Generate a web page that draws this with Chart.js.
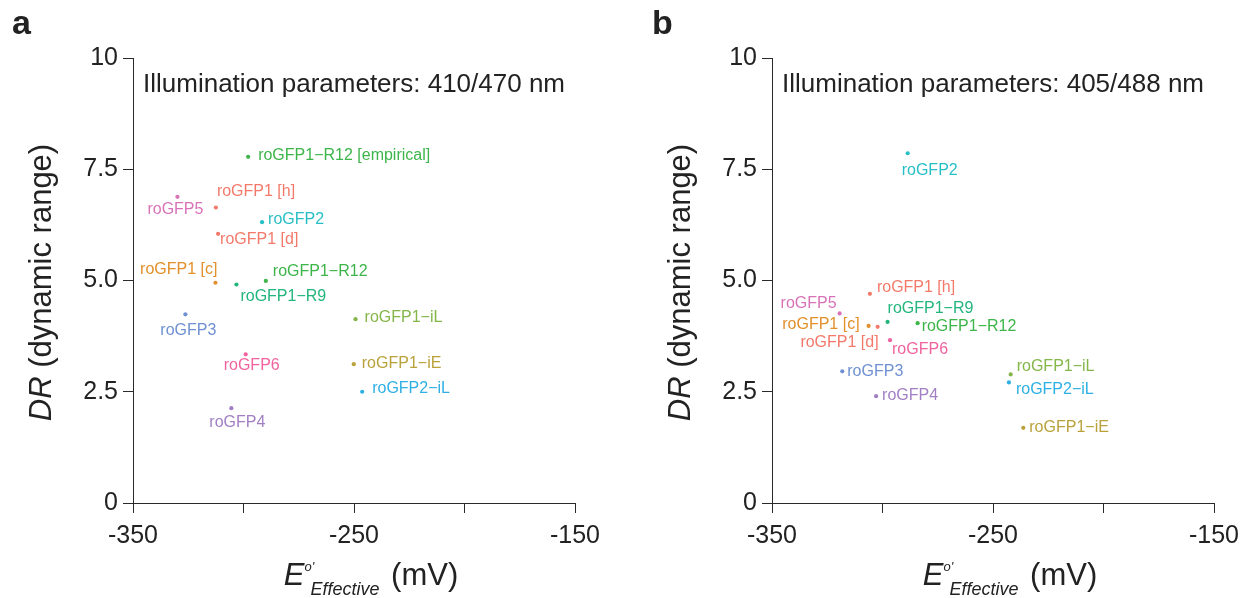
<!DOCTYPE html>
<html>
<head>
<meta charset="utf-8">
<script src="https://cdn.jsdelivr.net/npm/chart.js@4.4.1/dist/chart.umd.min.js"></script>
<style>
  html, body { margin: 0; padding: 0; background: #fff; }
  #wrap { position: relative; width: 1249px; height: 598px; overflow: hidden; }
  canvas { position: absolute; top: 0; }
</style>
</head>
<body>
<div id="wrap">
  <canvas id="chartA" width="624" height="598" style="left:0"></canvas>
  <canvas id="chartB" width="625" height="598" style="left:624px"></canvas>
</div>
<script>
// Panel a: 410/470 nm illumination
const sensorsA = ['roGFP1\u2212R12 [empirical]', 'roGFP5', 'roGFP1 [h]', 'roGFP2', 'roGFP1 [d]',
  'roGFP1 [c]', 'roGFP1\u2212R9', 'roGFP1\u2212R12', 'roGFP3', 'roGFP1\u2212iL', 'roGFP6',
  'roGFP1\u2212iE', 'roGFP2\u2212iL', 'roGFP4'];
const potentialA = [-297.9, -329.9, -312.5, -291.6, -311.5, -312.7, -303.2, -289.9, -326.3, -249.3, -299.0, -250.1, -246.3, -305.5];
const rangeA = [7.78, 6.88, 6.64, 6.31, 6.05, 4.95, 4.91, 4.99, 4.24, 4.13, 3.34, 3.12, 2.50, 2.13];

// Panel b: 405/488 nm illumination
const sensorsB = ['roGFP2', 'roGFP1 [h]', 'roGFP5', 'roGFP1 [c]', 'roGFP1 [d]', 'roGFP1\u2212R9',
  'roGFP1\u2212R12', 'roGFP6', 'roGFP3', 'roGFP4', 'roGFP1\u2212iL', 'roGFP2\u2212iL', 'roGFP1\u2212iE'];
const potentialB = [-288.6, -305.7, -319.4, -306.3, -302.2, -297.7, -284.1, -296.6, -318.2, -302.9, -242.0, -242.8, -236.3];
const rangeB = [7.86, 4.70, 4.26, 3.98, 3.96, 4.07, 4.04, 3.66, 2.96, 2.40, 2.89, 2.71, 1.69];

// Axis ticks
const xTicks = [-350, -300, -250, -200, -150];
const xTickLabels = ['-350', '', '-250', '', '-150'];
const yTicks = [0, 2.5, 5, 7.5, 10];
const yTickLabels = ['0', '2.5', '5.0', '7.5', '10'];

// Per-sensor colours
const sensorColor = {
  'roGFP1\u2212R12 [empirical]': '#3db54a',
  'roGFP1\u2212R12': '#3db54a',
  'roGFP1\u2212R9': '#22b57c',
  'roGFP5': '#d873b8',
  'roGFP1 [h]': '#f37a6b',
  'roGFP1 [d]': '#f37a6b',
  'roGFP1 [c]': '#e2902c',
  'roGFP2': '#27bfc6',
  'roGFP3': '#6f90d3',
  'roGFP1\u2212iL': '#84b64a',
  'roGFP6': '#f1639e',
  'roGFP1\u2212iE': '#b9a23c',
  'roGFP2\u2212iL': '#2eb0e4',
  'roGFP4': '#a27fc4'
};

// Label placement next to each dot: [dx, dy, align]
const labelOffsetA = [[10,-1,'left'],[-2,13,'center'],[1,-16,'left'],[6,-3,'left'],[2,6,'left'],
  [2,-13,'right'],[4,12,'left'],[7,-9,'left'],[3,16,'center'],[9,-2,'left'],[6,11,'center'],
  [8,-1,'left'],[10,-3,'left'],[6,14,'center']];
const labelOffsetB = [[-6,17,'left'],[7,-6,'left'],[-3,-10,'right'],[-9,-1,'right'],[1,16,'right'],
  [0,-13,'left'],[4,3,'left'],[2,9,'left'],[5,0,'left'],[6,-1,'left'],[6,-8,'left'],
  [7,7,'left'],[6,0,'left']];

const FONT = '"Liberation Sans", Arial, Helvetica, sans-serif';
const AXIS_COLOR = '#2a2a2a';
const TEXT_COLOR = '#222222';

const annotate = {
  id: 'annotate',
  afterDatasetsDraw(chart, args, opts) {
    const ctx = chart.ctx;
    const meta = chart.getDatasetMeta(0);
    ctx.save();
    ctx.font = '16px ' + FONT;
    ctx.textBaseline = 'middle';
    meta.data.forEach((pt, i) => {
      const off = opts.offsets[i];
      ctx.fillStyle = sensorColor[opts.names[i]];
      ctx.textAlign = off[2];
      ctx.fillText(opts.names[i], pt.x + off[0], pt.y + off[1]);
    });
    ctx.restore();
  },
  afterDraw(chart, args, opts) {
    const ctx = chart.ctx;
    const area = chart.chartArea;
    ctx.save();
    ctx.fillStyle = TEXT_COLOR;

    // panel letter
    ctx.font = 'bold 34px ' + FONT;
    ctx.textAlign = 'left';
    ctx.textBaseline = 'alphabetic';
    ctx.fillText(opts.letter, opts.letterX, 34);

    // illumination note
    ctx.font = '26px ' + FONT;
    ctx.fillText(opts.note, area.left + 10, area.top + 34);

    // y title: DR (dynamic range)
    const cy = (area.top + area.bottom) / 2 + 2;
    ctx.save();
    ctx.translate(area.left - 91, cy);
    ctx.rotate(-Math.PI / 2);
    ctx.textBaseline = 'middle';
    ctx.font = 'italic 31px ' + FONT;
    const w1 = ctx.measureText('DR').width;
    ctx.font = '31px ' + FONT;
    const w2 = ctx.measureText(' (dynamic range)').width;
    const x0 = -(w1 + w2) / 2;
    ctx.font = 'italic 31px ' + FONT;
    ctx.fillText('DR', x0, 0);
    ctx.font = '31px ' + FONT;
    ctx.fillText(' (dynamic range)', x0 + w1, 0);
    ctx.restore();

    // x title: E°'_Effective (mV)
    ctx.textBaseline = 'alphabetic';
    ctx.font = 'italic 31px ' + FONT;
    const wE = ctx.measureText('E').width;
    ctx.font = 'italic 18px ' + FONT;
    const wSub = ctx.measureText('Effective').width;
    ctx.font = '31px ' + FONT;
    const wUnit = ctx.measureText(' (mV)').width;
    const subGap = 6, unitGap = 3;
    const total = wE + subGap + wSub + unitGap + wUnit;
    const cx = (area.left + area.right) / 2 + 17;
    const x = cx - total / 2;
    const base = 585;
    ctx.font = 'italic 31px ' + FONT;
    ctx.fillText('E', x, base);
    ctx.font = 'italic 13px ' + FONT;
    ctx.fillText("o'", x + wE, base - 14);
    ctx.font = 'italic 18px ' + FONT;
    ctx.fillText('Effective', x + wE + subGap, base + 10);
    ctx.font = '31px ' + FONT;
    ctx.fillText(' (mV)', x + wE + subGap + wSub + unitGap, base);
    ctx.restore();
  }
};

function makeChart(id, names, xs, ys, offsets, yAxisWidth, padRight, letter, letterX, note) {
  return new Chart(document.getElementById(id), {
    type: 'scatter',
    data: {
      datasets: [{
        data: names.map((n, i) => ({ x: xs[i], y: ys[i] })),
        pointBackgroundColor: names.map(n => sensorColor[n]),
        pointBorderWidth: 0,
        pointRadius: 2.1,
        pointHoverRadius: 2.1
      }]
    },
    options: {
      responsive: false,
      animation: false,
      events: [],
      layout: { padding: { left: 0, top: 58, right: padRight, bottom: 0 } },
      plugins: {
        legend: { display: false },
        tooltip: { enabled: false },
        annotate: { names: names, offsets: offsets, letter: letter, letterX: letterX, note: note }
      },
      scales: {
        x: {
          type: 'linear',
          min: -350, max: -150,
          afterFit(scale) { scale.height = 95; },
          afterBuildTicks(scale) { scale.ticks = xTicks.map(v => ({ value: v })); },
          ticks: {
            autoSkip: false,
            maxRotation: 0,
            padding: 8,
            color: TEXT_COLOR,
            font: { family: FONT, size: 25 },
            callback: (v) => xTickLabels[xTicks.indexOf(v)]
          },
          grid: { drawOnChartArea: false, drawTicks: true, tickLength: 10, color: AXIS_COLOR, lineWidth: 1 },
          border: { display: true, color: AXIS_COLOR, width: 1 }
        },
        y: {
          type: 'linear',
          min: 0, max: 10,
          afterFit(scale) { scale.width = yAxisWidth; },
          afterBuildTicks(scale) { scale.ticks = yTicks.map(v => ({ value: v })); },
          ticks: {
            autoSkip: false,
            padding: 5,
            color: TEXT_COLOR,
            font: { family: FONT, size: 25 },
            callback: (v) => yTickLabels[yTicks.indexOf(v)]
          },
          grid: { drawOnChartArea: false, drawTicks: true, tickLength: 10, color: AXIS_COLOR, lineWidth: 1 },
          border: { display: true, color: AXIS_COLOR, width: 1 }
        }
      }
    },
    plugins: [annotate]
  });
}

makeChart('chartA', sensorsA, potentialA, rangeA, labelOffsetA, 133, 49, 'a', 12,
  'Illumination parameters: 410/470 nm');
makeChart('chartB', sensorsB, potentialB, rangeB, labelOffsetB, 148, 35, 'b', 28,
  'Illumination parameters: 405/488 nm');
</script>
</body>
</html>
